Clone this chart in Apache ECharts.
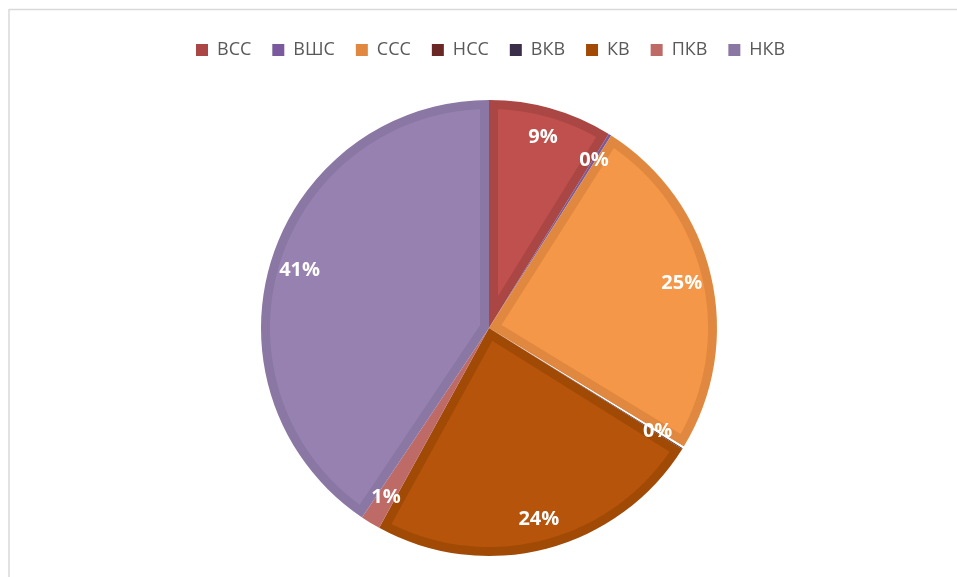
<!DOCTYPE html>
<html>
<head>
<meta charset="utf-8">
<script src="https://cdn.jsdelivr.net/npm/echarts@6/dist/echarts.min.js"></script>
<style>html,body{margin:0;padding:0;background:#fff;}#chart{width:957px;height:577px;}</style>
</head>
<body>
<div id="chart"></div>
<script>
const categories = ['ВСС', 'ВШС', 'ССС', 'НСС', 'ВКВ', 'КВ', 'ПКВ', 'НКВ'];
const values = [8.8, 0.2, 24.7, 0.15, 0.05, 24.1, 1.4, 40.6];
const fillColors = ['#C0504D', '#7F5FA0', '#F59748', '#772C2A', '#3F3151', '#B5540A', '#C0696A', '#9781B0'];
const borderColors = ['#AA4643', '#7A5A9C', '#E0883F', '#6A2725', '#3A2E4B', '#A04A06', '#BE6A67', '#8A77A3'];
const sliceColors = ['#AA4643', '#7A5A9C', '#E0883F', '#ffffff', '#3A2E4B', '#A04A06', '#BE6A67', '#8A77A3'];

const INSET = 9;
const total = values.reduce((a, b) => a + b, 0);
const ranges = [];
let acc = 0;
values.forEach((v, i) => { ranges.push([1, acc, acc + v, i]); acc += v; });

const chart = echarts.init(document.getElementById('chart'));

chart.setOption({
  animation: false,
  backgroundColor: '#fff',
  graphic: [
    { type: 'line', shape: { x1: 9, y1: 9.5, x2: 957, y2: 9.5 }, style: { stroke: '#d9d9d9', lineWidth: 1.5 }, silent: true },
    { type: 'line', shape: { x1: 9, y1: 9, x2: 9, y2: 577 }, style: { stroke: '#d9d9d9', lineWidth: 1.5 }, silent: true }
  ],
  legend: {
    top: 36,
    left: 191,
    itemWidth: 12,
    itemHeight: 12,
    itemGap: 21,
    icon: 'rect',
    selectedMode: false,
    textStyle: { color: '#595959', fontSize: 18, fontFamily: 'Open Sans', padding: [0, 0, 0, 4] },
    data: categories.map((c, i) => ({ name: c, itemStyle: { color: borderColors[i], borderWidth: 0 } }))
  },
  polar: { center: [489, 328], radius: 228 },
  angleAxis: { type: 'value', min: 0, max: total, startAngle: 90, clockwise: true, show: false },
  radiusAxis: { type: 'value', min: 0, max: 1, show: false },
  series: [
    {
      type: 'pie',
      center: [489, 328],
      radius: [0, 228],
      startAngle: 90,
      clockwise: true,
      silent: true,
      z: 2,
      label: { show: false },
      labelLine: { show: false },
      itemStyle: { borderWidth: 0 },
      data: categories.map((c, i) => ({ name: c, value: values[i], itemStyle: { color: sliceColors[i] } }))
    },
    {
      type: 'custom',
      coordinateSystem: 'polar',
      silent: true,
      clip: false,
      z: 5,
      data: ranges,
      renderItem: function (params, api) {
        const cs = params.coordSys;
        const cx = cs.cx, cy = cs.cy, R = cs.r;
        const pa = api.coord([1, api.value(1)]);
        const pb = api.coord([1, api.value(2)]);
        const idx = api.value(3);
        let a0 = Math.atan2(pa[1] - cy, pa[0] - cx);
        let a1 = Math.atan2(pb[1] - cy, pb[0] - cx);
        while (a1 <= a0) a1 += 2 * Math.PI;
        const th = a1 - a0;
        const d = INSET, Ri = R - d;
        const h = d / Math.sin(th / 2);
        if (!(h < Ri - 30)) return { type: 'group', children: [] };
        const b = a0 + th / 2;
        const off = Math.asin(d / Ri);
        const s0 = a0 + off, s1 = a1 - off;
        if (s1 <= s0) return { type: 'group', children: [] };
        const pts = [[cx + h * Math.cos(b), cy + h * Math.sin(b)]];
        const n = 120;
        for (let k = 0; k <= n; k++) {
          const ang = s0 + (s1 - s0) * k / n;
          pts.push([cx + Ri * Math.cos(ang), cy + Ri * Math.sin(ang)]);
        }
        return { type: 'polygon', shape: { points: pts }, style: { fill: fillColors[idx] } };
      }
    },
    {
      type: 'pie',
      center: [489, 328],
      radius: [162, 228],
      startAngle: 90,
      clockwise: true,
      silent: true,
      z: 8,
      itemStyle: { color: 'transparent', borderWidth: 0 },
      label: {
        show: true,
        position: 'inside',
        color: '#ffffff',
        fontSize: 20,
        fontWeight: 'bold',
        fontFamily: 'Open Sans',
        formatter: p => Math.round(p.percent) + '%'
      },
      labelLine: { show: false },
      data: categories.map((c, i) => ({ name: c, value: values[i] }))
    }
  ]
});
</script>
</body>
</html>
